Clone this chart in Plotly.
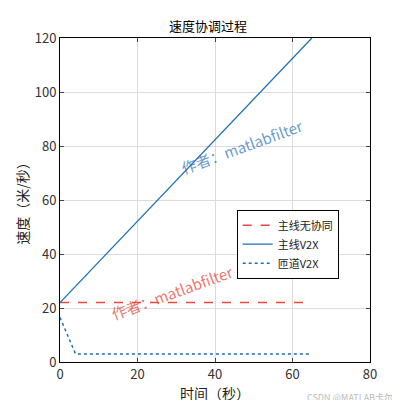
import plotly.graph_objects as go

x_main = [0, 65]
y_nocoord = [22, 22]
y_v2x = [22, 120]
x_ramp = [0, 4, 65]
y_ramp = [16.5, 3, 3]

F = "Noto Sans CJK SC"
fig = go.Figure()
fig.add_trace(go.Scatter(x=x_main, y=y_nocoord, mode="lines", name="主线无协同",
                         line=dict(color="#e8473a", dash="dash", width=1.5)))
fig.add_trace(go.Scatter(x=x_main, y=y_v2x, mode="lines", name="主线V2X",
                         line=dict(color="#1f6fb5", width=1.3)))
fig.add_trace(go.Scatter(x=x_ramp, y=y_ramp, mode="lines", name="匝道V2X",
                         line=dict(color="#1f6fb5", dash="dot", width=1.5)))

ax = dict(showline=True, linecolor="black", mirror="ticks", ticks="inside", ticklen=4,
          gridcolor="#dcdcdc", zeroline=False, tickfont=dict(size=13, color="#333"))
fig.update_layout(
    width=400, height=400, margin=dict(l=52, r=38, t=30, b=46),
    plot_bgcolor="white", paper_bgcolor="white", font=dict(family=F, color="#222"),
    title=dict(text="速度协调过程", x=0.5, xanchor="center", y=0.965, font=dict(size=13, color="black")),
    xaxis=dict(ax, range=[0, 80], dtick=20, title=dict(text="时间（秒）", font=dict(size=14), standoff=4)),
    yaxis=dict(ax, range=[0, 120], dtick=20, title=dict(text="速度（米/秒）", font=dict(size=14), standoff=2)),
    legend=dict(x=0.57, y=0.47, xanchor="left", yanchor="top", bgcolor="white",
                bordercolor="black", borderwidth=1, font=dict(size=11), tracegroupgap=0,
                itemwidth=30),
    showlegend=True,
)
fig.add_annotation(text="作者：matlabfilter", x=0.36, y=0.11, xref="paper", yref="paper",
                   showarrow=False, textangle=-20, font=dict(size=15, color="rgba(232,71,58,0.75)"))
fig.add_annotation(text="作者：matlabfilter", x=0.8, y=0.77, xref="paper", yref="paper",
                   showarrow=False, textangle=-20, font=dict(size=15, color="rgba(31,111,181,0.7)"))
fig.add_annotation(text="CSDN @MATLAB卡尔曼", x=1.0, y=0, xref="paper", yref="paper",
                   xanchor="right", yanchor="bottom", showarrow=False, yshift=-44, xshift=34,
                   font=dict(size=9, color="#bbbbbb"))
fig.write_html("out.html")
